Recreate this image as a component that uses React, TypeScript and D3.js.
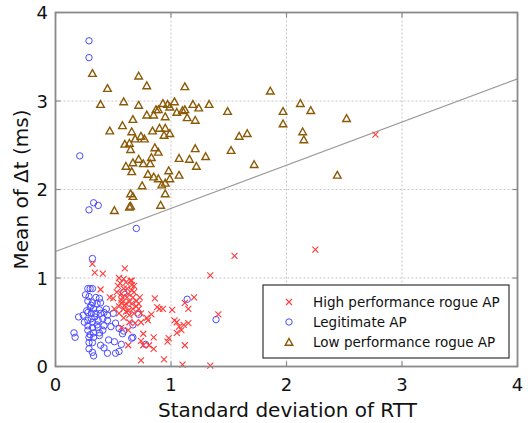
import React from 'react';
import * as d3 from 'd3';

// High performance rogue AP (red x)
const highX = [0.32, 0.34, 0.41, 0.39, 0.60, 0.55, 0.59, 0.61, 0.65, 0.68, 0.54, 0.50, 0.57, 0.63, 0.67, 0.70, 0.57, 0.61, 0.66, 0.59, 0.63, 0.67, 0.72, 0.55, 0.59, 0.64, 0.74, 0.79, 0.83, 0.86, 0.90, 0.93, 1.01, 1.12, 1.15, 1.20, 0.69, 0.74, 0.80, 1.05, 1.07, 1.11, 1.05, 0.98, 1.12, 0.85, 0.76, 0.63, 0.76, 0.85, 0.74, 0.94, 0.47, 0.51, 0.57, 0.68, 0.63, 0.74, 0.88, 1.03, 1.09, 1.15, 0.81, 1.34, 1.34, 1.41, 1.55, 2.25, 2.77, 1.10, 0.97, 0.59, 0.62, 0.56, 0.66, 0.60, 0.53, 0.72, 0.64, 0.66, 0.58, 0.62, 0.68, 0.57, 0.64, 0.70, 0.61, 0.55, 0.66, 0.73];
const highY = [1.16, 1.06, 1.05, 0.87, 1.11, 1.00, 0.99, 0.95, 0.97, 0.91, 0.91, 0.77, 0.82, 0.82, 0.78, 0.74, 0.72, 0.71, 0.71, 0.65, 0.63, 0.65, 0.65, 0.60, 0.55, 0.58, 0.60, 0.55, 0.59, 0.77, 0.65, 0.65, 0.64, 0.72, 0.65, 0.78, 0.49, 0.50, 0.52, 0.50, 0.45, 0.47, 0.38, 0.32, 0.24, 0.33, 0.37, 0.24, 0.24, 0.20, 0.07, 0.08, 0.78, 0.65, 0.44, 0.60, 0.41, 0.29, 0.67, 0.52, 0.41, 0.49, 0.24, 1.03, 0.01, 0.59, 1.25, 1.32, 2.62, 0.02, 0.28, 0.88, 0.78, 0.94, 0.86, 0.69, 0.84, 0.71, 0.50, 0.97, 0.78, 0.88, 0.84, 0.75, 0.73, 0.68, 0.62, 0.68, 0.92, 0.78];

// Legitimate AP (blue o)
const legitX = [0.29, 0.29, 0.21, 0.33, 0.29, 0.37, 0.70, 0.32, 0.28, 0.30, 0.32, 0.26, 0.29, 0.35, 0.38, 0.28, 0.32, 0.36, 0.39, 0.30, 0.33, 0.28, 0.31, 0.35, 0.39, 0.42, 0.45, 0.50, 0.20, 0.24, 0.28, 0.32, 0.37, 0.41, 0.45, 0.28, 0.32, 0.37, 0.42, 0.28, 0.33, 0.38, 0.41, 0.16, 0.17, 0.29, 0.33, 0.38, 0.29, 0.32, 0.46, 0.51, 0.57, 0.39, 0.42, 0.29, 0.32, 0.33, 0.45, 0.52, 0.55, 0.52, 0.55, 0.59, 0.58, 0.67, 0.66, 0.72, 0.59, 1.14, 0.78, 1.39, 0.67, 0.31, 0.34, 0.27, 0.38, 0.31, 0.36, 0.25, 0.44, 0.48, 0.30];
const legitY = [3.68, 3.49, 2.38, 1.85, 1.77, 1.82, 1.56, 1.22, 0.88, 0.88, 0.88, 0.81, 0.79, 0.78, 0.77, 0.74, 0.72, 0.71, 0.72, 0.67, 0.65, 0.61, 0.60, 0.60, 0.60, 0.61, 0.58, 0.60, 0.56, 0.58, 0.52, 0.50, 0.52, 0.54, 0.52, 0.46, 0.44, 0.44, 0.46, 0.41, 0.38, 0.38, 0.41, 0.38, 0.33, 0.33, 0.33, 0.35, 0.27, 0.27, 0.30, 0.28, 0.25, 0.24, 0.21, 0.20, 0.16, 0.12, 0.15, 0.15, 0.17, 0.49, 0.43, 0.40, 0.37, 0.33, 0.32, 0.59, 0.84, 0.76, 0.25, 0.53, 0.47, 0.69, 0.56, 0.63, 0.64, 0.54, 0.47, 0.50, 0.65, 0.45, 0.36];

// Low performance rogue AP (brown triangles)
const lowX = [0.32, 0.72, 0.79, 0.45, 1.12, 1.86, 0.39, 0.59, 0.72, 0.93, 0.97, 1.03, 0.99, 1.19, 1.12, 1.10, 1.05, 1.24, 1.33, 1.14, 1.21, 1.49, 2.12, 1.97, 2.21, 1.97, 2.52, 2.14, 2.15, 1.66, 1.59, 1.52, 1.72, 2.44, 1.21, 1.30, 1.16, 1.07, 1.22, 1.07, 0.79, 0.85, 0.87, 0.89, 0.95, 0.67, 0.58, 0.47, 0.66, 0.84, 0.90, 0.95, 0.99, 0.94, 0.74, 0.69, 0.77, 0.60, 0.64, 0.65, 0.86, 0.89, 0.83, 0.72, 0.76, 0.82, 0.67, 0.61, 0.66, 0.80, 0.98, 0.85, 0.89, 0.99, 0.95, 0.92, 0.75, 0.65, 0.67, 0.95, 0.91, 0.64, 0.65, 0.51];
const lowY = [3.31, 3.28, 3.17, 3.14, 3.16, 3.11, 2.96, 2.99, 2.95, 2.97, 2.96, 2.99, 2.93, 2.96, 2.90, 2.89, 2.87, 2.92, 2.96, 2.81, 2.78, 2.88, 2.97, 2.88, 2.89, 2.74, 2.80, 2.65, 2.56, 2.63, 2.60, 2.44, 2.28, 2.16, 2.46, 2.37, 2.34, 2.35, 2.26, 2.16, 2.84, 2.84, 2.90, 2.90, 2.82, 2.79, 2.72, 2.66, 2.65, 2.66, 2.69, 2.69, 2.63, 2.61, 2.60, 2.57, 2.57, 2.51, 2.52, 2.45, 2.47, 2.42, 2.36, 2.34, 2.29, 2.29, 2.30, 2.26, 2.20, 2.17, 2.21, 2.14, 2.12, 2.12, 2.07, 2.05, 2.04, 1.95, 1.92, 1.95, 1.82, 1.80, 1.81, 1.76];

// decision boundary
const boundaryX = [0, 4];
const boundaryY = [1.3, 3.25];

const ticks = [0, 1, 2, 3, 4];
const legendLabels = ['High performance rogue AP', 'Legitimate AP', 'Low performance rogue AP'];

const W = 528;
const H = 423;
const margin = { left: 55.5, right: 10.5, top: 12.5, bottom: 56.5 };
const FONT = '"DejaVu Sans", sans-serif';

const RED = '#ff3b3b';
const BLUE = '#4a4aff';
const BROWN = '#8c5a06';
const FRAME = '#8a8a8a';

const Cross = ({ x, y }: { x: number; y: number }) => (
  <path d={`M${x - 3},${y - 3}L${x + 3},${y + 3}M${x - 3},${y + 3}L${x + 3},${y - 3}`} stroke={RED} strokeWidth={1.1} fill="none" />
);
const Circle = ({ x, y }: { x: number; y: number }) => (
  <circle cx={x} cy={y} r={3.2} stroke={BLUE} strokeWidth={1} fill="none" />
);
const Tri = ({ x, y }: { x: number; y: number }) => (
  <path d={`M${x},${y - 4}L${x + 3.8},${y + 2.8}L${x - 3.8},${y + 2.8}Z`} stroke={BROWN} strokeWidth={1.4} fill="none" />
);

export default function App() {
  const x = d3.scaleLinear().domain([0, 4]).range([margin.left, W - margin.right]);
  const y = d3.scaleLinear().domain([0, 4]).range([H - margin.bottom, margin.top]);
  const [x0, x1] = x.range();
  const [y0, y1] = y.range();

  const line = d3.line<number>().x((_, i) => x(boundaryX[i])).y((d) => y(d));

  const legend = { x: 263, y: 285, w: 246, h: 73 };
  const rowY = [302, 322, 342];

  return (
    <div style={{ position: 'absolute', left: 0, top: 0 }}>
      <svg width={W} height={H} style={{ display: 'block', background: '#fff' }}>
        {/* grid */}
        {ticks.slice(1, -1).map((t) => (
          <g key={'g' + t}>
            <line x1={x(t)} x2={x(t)} y1={y1} y2={y0} stroke="#b8b8b8" strokeWidth={0.8} strokeDasharray="2,2" />
            <line x1={x0} x2={x1} y1={y(t)} y2={y(t)} stroke="#b8b8b8" strokeWidth={0.8} strokeDasharray="2,2" />
          </g>
        ))}

        {/* boundary line */}
        <path d={line(boundaryY) || ''} stroke="#9a9a9a" strokeWidth={1.2} fill="none" />

        {/* points */}
        {lowX.map((v, i) => <Tri key={'t' + i} x={x(v)} y={y(lowY[i])} />)}
        {legitX.map((v, i) => <Circle key={'c' + i} x={x(v)} y={y(legitY[i])} />)}
        {highX.map((v, i) => <Cross key={'x' + i} x={x(v)} y={y(highY[i])} />)}

        {/* frame and ticks */}
        <rect x={x0} y={y1} width={x1 - x0} height={y0 - y1} fill="none" stroke={FRAME} strokeWidth={1.8} />
        {ticks.map((t) => (
          <g key={'tk' + t} stroke={FRAME} strokeWidth={1.2}>
            <line x1={x(t)} x2={x(t)} y1={y0} y2={y0 - 5} />
            <line x1={x(t)} x2={x(t)} y1={y1} y2={y1 + 5} />
            <line x1={x0} x2={x0 + 5} y1={y(t)} y2={y(t)} />
            <line x1={x1} x2={x1 - 5} y1={y(t)} y2={y(t)} />
          </g>
        ))}

        {/* tick labels */}
        {ticks.map((t) => (
          <text key={'xl' + t} x={x(t)} y={391} textAnchor="middle" fontFamily={FONT} fontSize={18} fill="#111">{t}</text>
        ))}
        {ticks.map((t) => (
          <text key={'yl' + t} x={48} y={y(t) + 6.5} textAnchor="end" fontFamily={FONT} fontSize={18} fill="#111">{t}</text>
        ))}

        {/* axis titles */}
        <text x={(x0 + x1) / 2 + 1} y={417} textAnchor="middle" fontFamily={FONT} fontSize={20} fill="#111">Standard deviation of RTT</text>
        <text transform={`translate(28,${(y0 + y1) / 2}) rotate(-90)`} textAnchor="middle" fontFamily={FONT} fontSize={20} fill="#111">Mean of Δt (ms)</text>

        {/* legend */}
        <rect x={legend.x} y={legend.y} width={legend.w} height={legend.h} fill="#fff" stroke="#333" strokeWidth={1.2} />
        <Cross x={289} y={rowY[0]} />
        <Circle x={289} y={rowY[1]} />
        <Tri x={289} y={rowY[2] + 0.5} />
        {legendLabels.map((l, i) => (
          <text key={l} x={313} y={rowY[i] + 5} fontFamily={FONT} fontSize={13.5} fill="#111">{l}</text>
        ))}
      </svg>
    </div>
  );
}
